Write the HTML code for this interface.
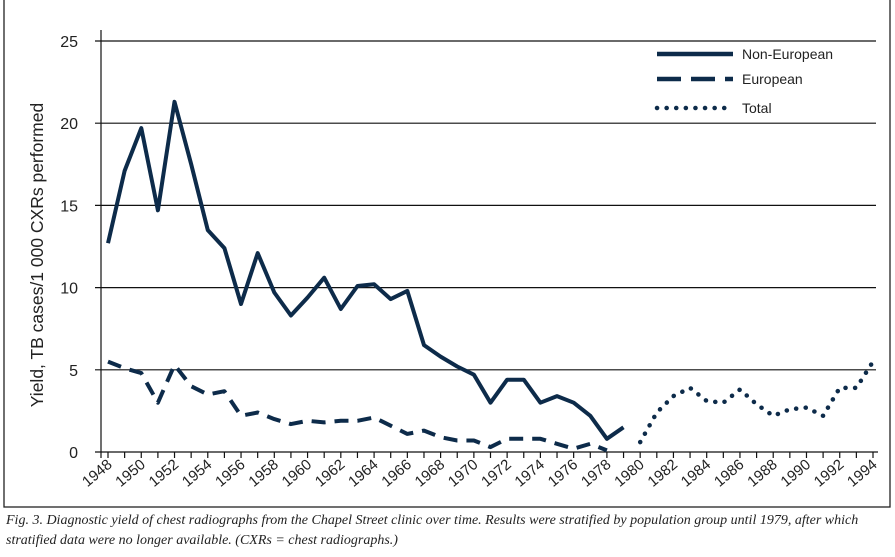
<!DOCTYPE html>
<html><head><meta charset="utf-8"><style>
body{margin:0;background:#fff;width:895px;height:557px;overflow:hidden}
svg{position:absolute;left:0;top:0}
.cap{position:absolute;left:6px;top:511px;width:885px;font:italic 14px "Liberation Serif",serif;color:#222;line-height:20px;white-space:nowrap}
</style></head><body>
<svg width="895" height="557">
<rect x="4" y="-2" width="886" height="509" fill="none" stroke="#222" stroke-width="1.3"/>
<g id="grid"></g><g id="axes"></g><g id="series"></g><g id="legend"></g>
<text x="43" y="255" transform="rotate(-90 43 255)" text-anchor="middle" font-family="Liberation Sans, sans-serif" font-size="17.5" fill="#222">Yield, TB cases/1 000 CXRs performed</text>
</svg>
<div class="cap">Fig. 3. Diagnostic yield of chest radiographs from the Chapel Street clinic over time. Results were stratified by population group until 1979, after which<br>stratified data were no longer available. (CXRs = chest radiographs.)</div>
<script>
const years=[];for(let y=1948;y<=1994;y++)years.push(y);
const yTicks=[0,5,10,15,20,25];
const nonEuropean=[12.7,17.1,19.7,14.7,21.3,17.5,13.5,12.4,9.0,12.1,9.7,8.3,9.4,10.6,8.7,10.1,10.2,9.3,9.8,6.5,5.8,5.2,4.7,3.0,4.4,4.4,3.0,3.4,3.0,2.2,0.8,1.5];
const european=[5.5,5.1,4.8,3.0,5.3,4.0,3.5,3.7,2.2,2.4,2.0,1.7,1.9,1.8,1.9,1.9,2.1,1.6,1.1,1.3,0.9,0.7,0.7,0.3,0.8,0.8,0.8,0.5,0.2,0.5,0.1];
const totalYears=[1980,1981,1982,1983,1984,1985,1986,1987,1988,1989,1990,1991,1992,1993,1994];
const total=[0.6,2.4,3.4,3.9,3.1,3.0,3.8,2.9,2.2,2.6,2.7,2.2,3.9,3.9,5.5];
const NS='http://www.w3.org/2000/svg';
const X=y=>108+(y-1948)*(873-108)/46;
const Y=v=>452-v*(452-41)/25;
function mk(t,a,p){const e=document.createElementNS(NS,t);for(const k in a)e.setAttribute(k,a[k]);document.getElementById(p).appendChild(e);return e;}
yTicks.forEach(v=>{
 if(v>0){const l=mk('line',{x1:95,x2:876,y1:Y(v),y2:Y(v),stroke:'#111','stroke-width':1.2},'grid');
 
 }
 const t=mk('text',{x:78,y:Y(v)+6,'text-anchor':'end','font-family':'Liberation Sans, sans-serif','font-size':16,fill:'#222'},'axes');t.textContent=v;
 
 
});
let a=mk('line',{x1:101,x2:101,y1:30,y2:458,stroke:'#111','stroke-width':1.2},'axes');


a=mk('line',{x1:95,x2:878,y1:452,y2:452,stroke:'#111','stroke-width':1.2},'axes');


years.forEach(y=>{
 const tk=mk('line',{x1:X(y),x2:X(y),y1:452,y2:458,stroke:'#111','stroke-width':1.2},'axes');
 
 
 if(y%2===0){const t=mk('text',{x:X(y)+5,y:466,'text-anchor':'end','font-family':'Liberation Sans, sans-serif','font-size':15,fill:'#222',transform:`rotate(-40 ${X(y)+5} 466)`},'axes');t.textContent=y;
 
 }
});
function line(xs,vs,dash,w,name){
 const d=vs.map((v,i)=>(i?'L':'M')+X(xs[i]).toFixed(1)+','+Y(v).toFixed(1)).join('');
 const p=mk('path',{d,fill:'none',stroke:'#0d2b4a','stroke-width':w,'stroke-linejoin':'round','stroke-linecap':dash==='dot'?'round':'butt'},'series');
 if(dash==='dash')p.setAttribute('stroke-dasharray','14 9');
 if(dash==='dot')p.setAttribute('stroke-dasharray','0.1 9.5');
 
 
}
line(years.slice(0,nonEuropean.length),nonEuropean,null,4,'non-european-line');
line(years.slice(0,european.length),european,'dash',4,'european-line');
line(totalYears,total,'dot',4.5,'total-line');
[['Non-European',null,54],['European','dash',79],['Total','dot',108]].forEach(([lab,ds,y])=>{
 const l=mk('line',{x1:657,x2:733,y1:y,y2:y,stroke:'#0d2b4a','stroke-width':4.5,'stroke-linecap':ds==='dot'?'round':'butt'},'legend');
 if(ds==='dash')l.setAttribute('stroke-dasharray','24 10');
 if(ds==='dot')l.setAttribute('stroke-dasharray','0.1 9.5');
 
 
 const t=mk('text',{x:742,y:y+5,'font-family':'Liberation Sans, sans-serif','font-size':14,fill:'#222'},'legend');t.textContent=lab;
 
 
});
</script>
</body></html>
